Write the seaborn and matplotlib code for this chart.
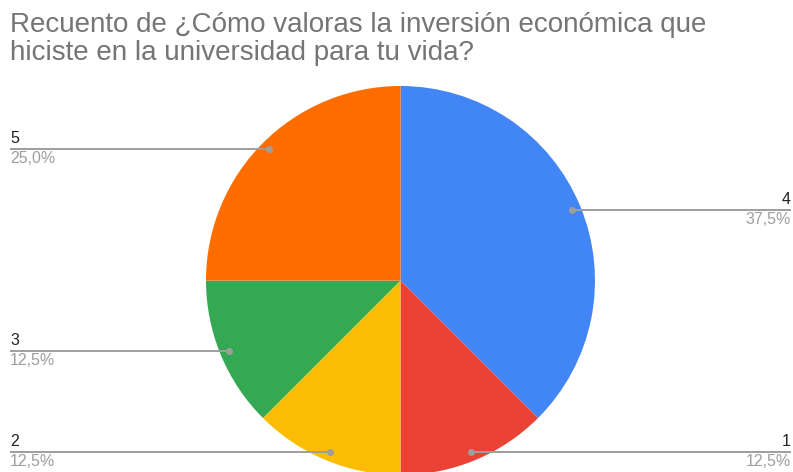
import numpy as np
import matplotlib
matplotlib.use("Agg")
import matplotlib.pyplot as plt
import seaborn as sns

# Survey answers (rating) and how many responses each got
categories = ["4", "1", "2", "3", "5"]
counts = [3, 1, 1, 1, 2]
pct_labels = ["37,5%", "12,5%", "12,5%", "12,5%", "25,0%"]
colors = ["#4285F4", "#EA4335", "#FBBC04", "#34A853", "#FF6D01"]
title = "Recuento de ¿Cómo valoras la inversión económica que\nhiciste en la universidad para tu vida?"

sns.set_theme(style="white")
plt.rcParams["font.family"] = ["Liberation Sans", "DejaVu Sans"]

W, H = 793, 472
fig = plt.figure(figsize=(W / 100, H / 100), dpi=100)
ax = fig.add_axes([0, 0, 1, 1])
ax.set_xlim(0, W)
ax.set_ylim(0, H)
ax.set_aspect("equal")
ax.axis("off")

cx, cy, R = 400.5, H - 280.5, 194.5
wedges, _ = ax.pie(counts, colors=sns.color_palette(colors), startangle=90,
                   counterclock=False, center=(cx, cy), radius=R,
                   wedgeprops=dict(linewidth=0, antialiased=True))
ax.set_xlim(0, W)
ax.set_ylim(0, H)

line_col = "#9e9e9e"
for w, cat, pct in zip(wedges, categories, pct_labels):
    mid = np.deg2rad((w.theta1 + w.theta2) / 2)
    px = cx + 0.953 * R * np.cos(mid)
    py = cy + 0.953 * R * np.sin(mid)
    if np.cos(mid) >= 0:
        x_end, ha = 791, "right"
    else:
        x_end, ha = 10, "left"
    ax.plot([px, x_end], [py, py], color=line_col, lw=1.4, solid_capstyle="butt", zorder=3)
    ax.plot(px, py, "o", color=line_col, ms=4, zorder=4)
    ax.text(x_end, py + 3, cat, ha=ha, va="bottom", fontsize=11.5, color="#222222")
    ax.text(x_end, py - 2, pct, ha=ha, va="top", fontsize=11.5, color="#9e9e9e")

fig.text(10 / W, 1 - 12 / H, title, ha="left", va="top", fontsize=20,
         color="#757575", linespacing=1.1)

fig.savefig("out.png", dpi=100)
